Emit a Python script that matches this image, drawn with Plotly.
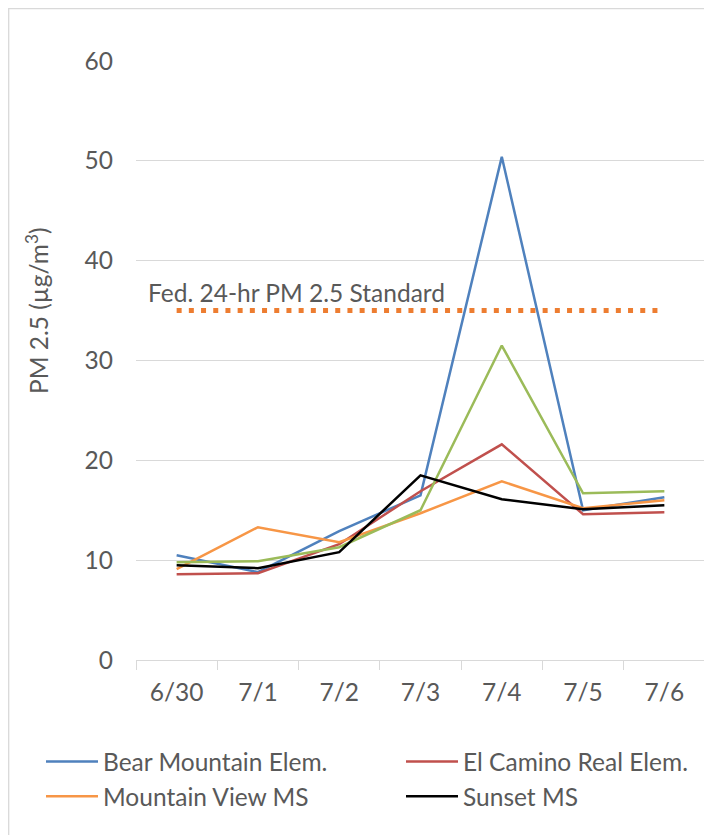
import plotly.graph_objects as go

dates = ["6/30", "7/1", "7/2", "7/3", "7/4", "7/5", "7/6"]
bear_mountain = [10.5, 8.8, 12.9, 16.5, 50.4, 15.0, 16.3]
el_camino = [8.6, 8.7, 11.6, 16.9, 21.6, 14.6, 14.8]
mountain_view = [9.1, 13.3, 11.8, 14.7, 17.9, 15.2, 16.0]
green_site = [9.8, 9.9, 11.3, 15.0, 31.5, 16.7, 16.9]
sunset = [9.5, 9.2, 10.8, 18.5, 16.1, 15.1, 15.5]
standard = [35, 35, 35, 35, 35, 35, 35]
standard_label = "Fed. 24-hr PM 2.5 Standard"
y_title = "PM 2.5 (µg/m<sup>3</sup>)"

FONT = "Lato"
GREY = "#595959"
FS = 24.5
BODY = 8  # default page margin of the html body

fig = go.Figure()
fig.add_trace(go.Scatter(x=dates, y=standard, mode="lines", showlegend=False,
                         line=dict(color="#ED7D31", width=5, dash="5px,7.2px"), hoverinfo="skip"))
fig.add_trace(go.Scatter(x=dates, y=bear_mountain, mode="lines", name="Bear Mountain Elem.",
                         line=dict(color="#4F81BD", width=2.5), legend="legend"))
fig.add_trace(go.Scatter(x=dates, y=el_camino, mode="lines", name="El Camino Real Elem.",
                         line=dict(color="#C0504D", width=2.5), legend="legend2"))
fig.add_trace(go.Scatter(x=dates, y=mountain_view, mode="lines", name="Mountain View MS",
                         line=dict(color="#F79646", width=2.5), legend="legend"))
fig.add_trace(go.Scatter(x=dates, y=green_site, mode="lines", showlegend=False,
                         line=dict(color="#9BBB59", width=2.5)))
fig.add_trace(go.Scatter(x=dates, y=sunset, mode="lines", name="Sunset MS",
                         line=dict(color="#000000", width=2.5), legend="legend2"))

W, H = 712 - BODY, 835 - BODY
L, R, T, B = 136 - BODY, 7, 61 - BODY, 175
pw, ph = W - L - R, H - T - B

def px_x(p):
    return (p - BODY - L) / pw

def px_y(p):
    return (H - B - (p - BODY)) / ph

legend_common = dict(orientation="v", xanchor="left", yanchor="top",
                     font=dict(size=FS, color=GREY), traceorder="normal", itemwidth=52,
                     tracegroupgap=0, bgcolor="rgba(0,0,0,0)")

fig.update_layout(
    width=W, height=H,
    margin=dict(l=L, r=R, t=T, b=B, autoexpand=False),
    paper_bgcolor="white", plot_bgcolor="white",
    font=dict(family=FONT, size=FS, color=GREY),
    showlegend=True,
    legend=dict(x=px_x(41), y=px_y(739), **legend_common),
    legend2=dict(x=px_x(401), y=px_y(739), **legend_common),
    xaxis=dict(type="category", showgrid=False, showline=True, linecolor="#d9d9d9", linewidth=1.3,
               ticks="outside", tickson="boundaries", ticklen=9, tickcolor="#d9d9d9", tickwidth=1.3,
               ticklabelstandoff=10, tickfont=dict(size=FS, color=GREY), range=[-0.5, 6.5],
               fixedrange=True),
    yaxis=dict(range=[0, 60], dtick=10, showgrid=True, gridcolor="#d9d9d9", gridwidth=1.3,
               zeroline=False, showline=False, ticks="", ticklabelstandoff=22,
               tickfont=dict(size=FS, color=GREY), fixedrange=True),
    shapes=[dict(type="rect", xref="paper", yref="paper",
                 x0=px_x(BODY + 0.7), x1=px_x(740), y0=px_y(860), y1=px_y(BODY + 0.7),
                 line=dict(color="#d9d9d9", width=1.3), fillcolor="rgba(0,0,0,0)", layer="below")],
    annotations=[
        dict(text=y_title, xref="paper", yref="paper", x=px_x(37), y=px_y(311),
             textangle=-90, showarrow=False, font=dict(size=FS, color=GREY),
             xanchor="center", yanchor="middle"),
        dict(text=standard_label, xref="paper", yref="y", x=px_x(146), y=36.8,
             showarrow=False, font=dict(size=FS, color=GREY), xanchor="left", yanchor="middle"),
    ],
)

fig.write_html("out.html")
